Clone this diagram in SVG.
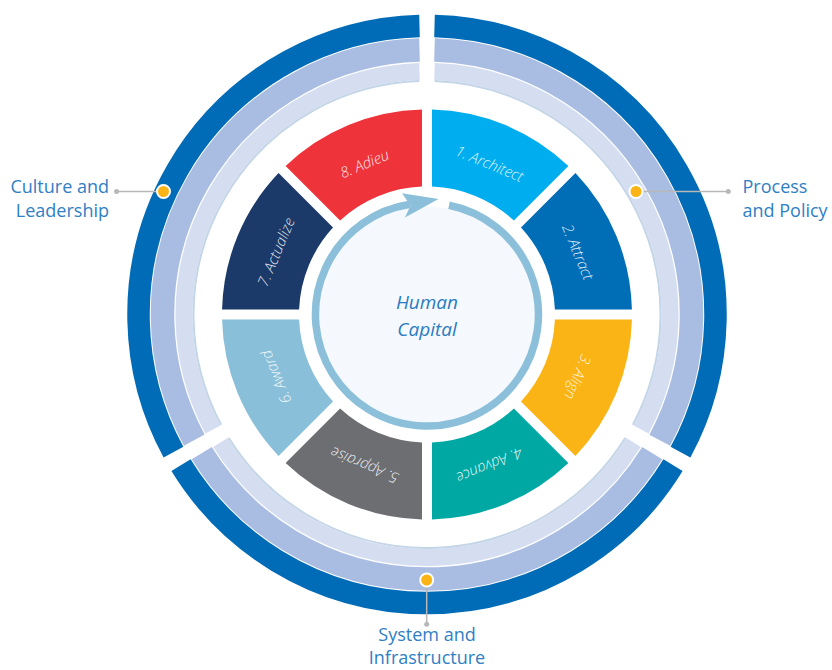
<svg xmlns="http://www.w3.org/2000/svg" width="832" height="670" viewBox="0 0 832 670">
<style>
.lbl{font-family:"Open Sans","Liberation Sans",sans-serif;font-size:18px;fill:#2f80c4}
.seg text{font-family:"Open Sans","Liberation Sans",sans-serif;font-size:15px;font-style:italic;font-weight:300;fill:#ffffff;fill-opacity:0.9;text-anchor:middle}
.r-dark{fill:none;stroke:#006bb6;stroke-width:22.5}
.r-mid{fill:none;stroke:#a9bde2;stroke-width:23.5}
.r-light{fill:none;stroke:#d5def1;stroke-width:17}
.r-edge{fill:none;stroke:#c3d5e7;stroke-width:2}
.lead{stroke:#b8b8b8;stroke-width:1.5;fill:none}
.enddot{fill:#b8b8b8}
.ydot{fill:#fbb415;stroke:#ffffff;stroke-width:2}
.hc{font-family:"Open Sans","Liberation Sans",sans-serif;font-size:19px;font-style:italic;fill:#2b7bbf;text-anchor:middle}
</style>
<defs>
<g id="ringArcs">
<path class="r-dark" d="M434.5,26.1 A288.5,288.5 0 0 1 680.5,452.2"/>
<path class="r-mid" d="M434.5,50.11 A264.5,264.5 0 0 1 659.71,440.22"/>
<path class="r-light" d="M434.5,71.62 A243,243 0 0 1 641.1,429.45"/>
<path class="r-edge" d="M434.5,81.12 A233.5,233.5 0 0 1 632.87,424.69"/>
</g>
</defs>
<rect width="832" height="670" fill="#ffffff"/>

<g id="process-policy"><use href="#ringArcs"/></g>
<g id="system-infrastructure"><use href="#ringArcs" transform="rotate(120 427 314.5)"/></g>
<g id="culture-leadership"><use href="#ringArcs" transform="rotate(240 427 314.5)"/></g>

<g id="seg1" class="seg">
<path fill="#00aeef" d="M432,109.56 A205,205 0 0 1 568.38,166.04 L513.9,220.52 A128,128 0 0 0 432,186.6 Z"/>
<text transform="translate(489.38 163.91) rotate(22.5)" y="5">1. Architect</text>
</g>
<g id="seg2" class="seg">
<path fill="#006db7" d="M575.46,173.12 A205,205 0 0 1 631.94,309.5 L554.9,309.5 A128,128 0 0 0 520.98,227.6 Z"/>
<text transform="translate(577.59 252.12) rotate(67.5)" y="5">2. Attract</text>
</g>
<g id="seg3" class="seg">
<path fill="#fbb415" d="M631.94,319.5 A205,205 0 0 1 575.46,455.88 L520.98,401.4 A128,128 0 0 0 554.9,319.5 Z"/>
<text transform="translate(577.59 376.88) rotate(112.5)" y="5">3. Align</text>
</g>
<g id="seg4" class="seg">
<path fill="#00a8a4" d="M568.38,462.96 A205,205 0 0 1 432,519.44 L432,442.4 A128,128 0 0 0 513.9,408.48 Z"/>
<text transform="translate(489.38 465.09) rotate(157.5)" y="5">4. Advance</text>
</g>
<g id="seg5" class="seg">
<path fill="#6d6e72" d="M422,519.44 A205,205 0 0 1 285.62,462.96 L340.1,408.48 A128,128 0 0 0 422,442.4 Z"/>
<text transform="translate(364.62 465.09) rotate(202.5)" y="5">5. Appraise</text>
</g>
<g id="seg6" class="seg">
<path fill="#89bfd9" d="M278.54,455.88 A205,205 0 0 1 222.06,319.5 L299.1,319.5 A128,128 0 0 0 333.02,401.4 Z"/>
<text transform="translate(276.41 376.88) rotate(247.5)" y="5">6. Award</text>
</g>
<g id="seg7" class="seg">
<path fill="#1b3a69" d="M222.06,309.5 A205,205 0 0 1 278.54,173.12 L333.02,227.6 A128,128 0 0 0 299.1,309.5 Z"/>
<text transform="translate(276.41 252.12) rotate(292.5)" y="5">7. Actualize</text>
</g>
<g id="seg8" class="seg">
<path fill="#ee333b" d="M285.62,166.04 A205,205 0 0 1 422,109.56 L422,186.6 A128,128 0 0 0 340.1,220.52 Z"/>
<text transform="translate(364.62 163.91) rotate(337.5)" y="5">8. Adieu</text>
</g>

<g id="human-capital">
<circle cx="427" cy="314.5" r="108" fill="#f5f9fd"/>
<path d="M449,205.2 A111.5,111.5 0 1 1 410,204.3" fill="none" stroke="#8cc0da" stroke-width="7.5"/>
<polygon points="402,193.3 438.5,199 405,217.5 410.5,205.5" fill="#8cc0da"/>
<text class="hc" x="427" y="309">Human</text>
<text class="hc" x="427" y="336">Capital</text>
</g>

<g id="connectors">
<line class="lead" x1="116.5" y1="191.5" x2="163.5" y2="191.5"/>
<circle class="enddot" cx="116.5" cy="191.5" r="2.5"/>
<circle class="ydot" cx="163.5" cy="191.5" r="6.5"/>
<line class="lead" x1="636" y1="191.5" x2="728.3" y2="191.5"/>
<circle class="enddot" cx="728.3" cy="191.5" r="2.5"/>
<circle class="ydot" cx="636" cy="191.5" r="6.5"/>
<line class="lead" x1="426.7" y1="580" x2="426.7" y2="624.3"/>
<circle class="enddot" cx="426.7" cy="624.3" r="2.5"/>
<circle class="ydot" cx="426.7" cy="580" r="6.5"/>
</g>

<g id="labels">
<text class="lbl" x="109" y="193" text-anchor="end">Culture and</text>
<text class="lbl" x="109" y="217" text-anchor="end">Leadership</text>
<text class="lbl" x="742.5" y="193">Process</text>
<text class="lbl" x="742.5" y="217">and Policy</text>
<text class="lbl" x="427" y="641" text-anchor="middle">System and</text>
<text class="lbl" x="427" y="664" text-anchor="middle">Infrastructure</text>
</g>
</svg>
